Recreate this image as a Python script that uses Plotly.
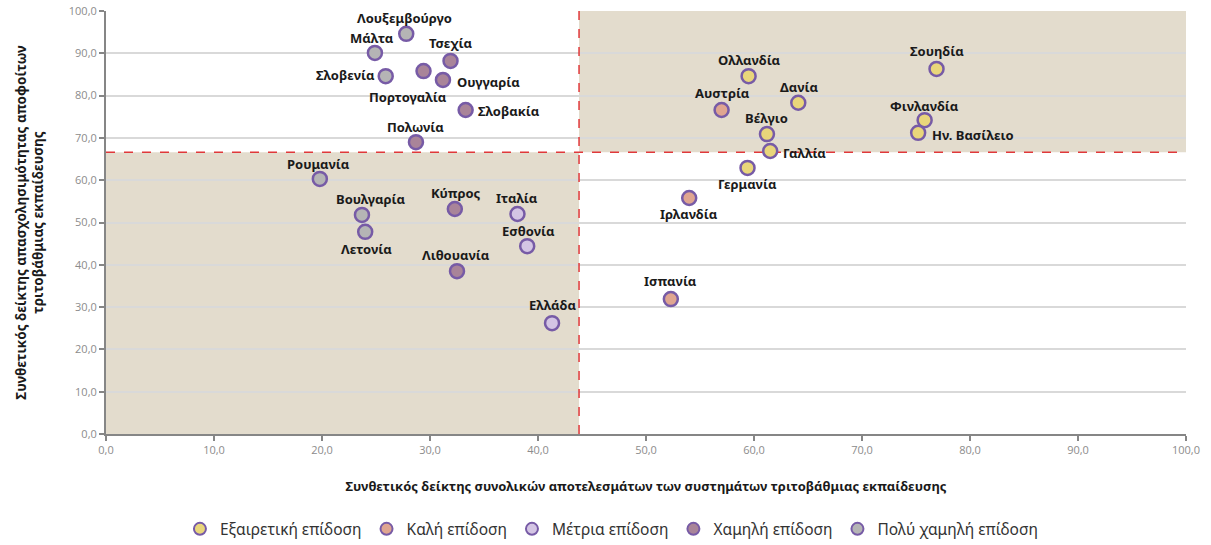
import plotly.graph_objects as go

# countries grouped by performance category
categories = ['Εξαιρετική επίδοση', 'Καλή επίδοση', 'Μέτρια επίδοση',
              'Χαμηλή επίδοση', 'Πολύ χαμηλή επίδοση']

excellent_names = ['Σουηδία', 'Φινλανδία', 'Ην. Βασίλειο', 'Ολλανδία', 'Δανία',
                   'Βέλγιο', 'Γαλλία', 'Γερμανία']
excellent_x = [76.9, 75.8, 75.2, 59.5, 64.1, 61.2, 61.5, 59.4]
excellent_y = [86.3, 74.2, 71.2, 84.6, 78.3, 70.9, 66.9, 62.9]

good_names = ['Αυστρία', 'Ιρλανδία', 'Ισπανία']
good_x = [57.0, 54.0, 52.3]
good_y = [76.6, 55.8, 31.9]

medium_names = ['Ιταλία', 'Εσθονία', 'Ελλάδα']
medium_x = [38.1, 39.0, 41.3]
medium_y = [52.0, 44.4, 26.2]

low_names = ['Τσεχία', 'Πορτογαλία', 'Ουγγαρία', 'Σλοβακία', 'Πολωνία',
             'Κύπρος', 'Λιθουανία']
low_x = [31.9, 29.4, 31.2, 33.3, 28.7, 32.3, 32.5]
low_y = [88.2, 85.8, 83.7, 76.6, 69.0, 53.2, 38.5]

verylow_names = ['Λουξεμβούργο', 'Μάλτα', 'Σλοβενία', 'Ρουμανία', 'Βουλγαρία', 'Λετονία']
verylow_x = [27.8, 24.9, 25.9, 19.8, 23.7, 24.0]
verylow_y = [94.6, 90.1, 84.6, 60.3, 51.8, 47.8]

# EU averages (threshold lines)
x_avg = 43.8
y_avg = 66.6

# label placement: (anchor, dx px, dy px, screen coords, dy>0 = down)
label_pos = {
    'Σουηδία': ('center', 0, -18), 'Φινλανδία': ('center', 0, -14),
    'Ην. Βασίλειο': ('left', 12, 2), 'Ολλανδία': ('center', 1, -16),
    'Δανία': ('center', 1, -16), 'Βέλγιο': ('center', 0, -16),
    'Γαλλία': ('left', 11, 2), 'Γερμανία': ('center', 0, 16),
    'Αυστρία': ('center', 1, -17), 'Ιρλανδία': ('center', 0, 16),
    'Ισπανία': ('center', 0, -18),
    'Ιταλία': ('center', 0, -16), 'Εσθονία': ('center', 1, -15),
    'Ελλάδα': ('center', 0, -18),
    'Τσεχία': ('center', 0, -18), 'Πορτογαλία': ('center', -16, 26),
    'Ουγγαρία': ('left', 12, 2), 'Σλοβακία': ('left', 10, 1),
    'Πολωνία': ('center', 0, -15), 'Κύπρος': ('center', 1, -16),
    'Λιθουανία': ('center', -1, -16),
    'Λουξεμβούργο': ('center', -2, -16), 'Μάλτα': ('center', -3, -15),
    'Σλοβενία': ('right', -9, -1), 'Ρουμανία': ('center', -1, -15),
    'Βουλγαρία': ('center', 9, -16), 'Λετονία': ('center', 1, 17),
}

colors = ['#E9D67B', '#DFA590', '#D4C5E4', '#A98499', '#B5B5B5']
groups = [
    (excellent_names, excellent_x, excellent_y),
    (good_names, good_x, good_y),
    (medium_names, medium_x, medium_y),
    (low_names, low_x, low_y),
    (verylow_names, verylow_x, verylow_y),
]

fig = go.Figure()
for cat, col, (names, xs, ys) in zip(categories, colors, groups):
    fig.add_trace(go.Scatter(
        x=xs, y=ys, text=names, name=cat,
        mode='markers',
        marker=dict(size=14, color=col, line=dict(color='#775BA6', width=2.5)),
        cliponaxis=False,
        hoverinfo='skip',
    ))
    for n, xv, yv in zip(names, xs, ys):
        anchor, dx, dy = label_pos[n]
        fig.add_annotation(x=xv, y=yv, text=n, showarrow=False,
                           xanchor=anchor, yanchor='middle',
                           xshift=dx, yshift=-dy,
                           font=dict(family='Noto Sans', size=13, color='#1a1a1a',
                                     weight='bold'))

shade = '#E3DCCD'
fig.add_shape(type='rect', x0=0, x1=x_avg, y0=0, y1=y_avg, fillcolor=shade,
              line_width=0, layer='below')
fig.add_shape(type='rect', x0=x_avg, x1=100, y0=y_avg, y1=100, fillcolor=shade,
              line_width=0, layer='below')
fig.add_shape(type='line', x0=x_avg, x1=x_avg, y0=0, y1=100,
              line=dict(color='#E0383A', width=1.5, dash='dash'), layer='between')
fig.add_shape(type='line', x0=0, x1=100, y0=y_avg, y1=y_avg,
              line=dict(color='#E0383A', width=1.5, dash='dash'), layer='between')

axis_common = dict(
    range=[0, 100], dtick=10, tickformat='.1f', automargin=False,
    showline=True, linecolor='#868686', linewidth=2,
    ticks='outside', tickcolor='#868686', ticklen=5, tickwidth=2,
    tickfont=dict(family='Open Sans', size=11, color='#8C8C8C'),
    zeroline=False,
)

fig.update_xaxes(**axis_common, showgrid=False,
                 title=dict(text='Συνθετικός δείκτης συνολικών αποτελεσμάτων των συστημάτων τριτοβάθμιας εκπαίδευσης',
                            font=dict(family='Noto Sans', size=13, color='#1a1a1a', weight='bold'),
                            standoff=26))
fig.update_yaxes(**axis_common, showgrid=True, gridcolor='#D9D9D9', gridwidth=2,
                 title=dict(text='Συνθετικός δείκτης απασχολησιμότητας αποφοίτων<br>τριτοβάθμιας εκπαίδευσης',
                            font=dict(family='Noto Sans', size=13.5, color='#1a1a1a', weight='bold'),
                            standoff=22))

fig.update_layout(
    width=1211, height=545,
    margin=dict(l=106, r=25, t=11, b=111, autoexpand=False),
    plot_bgcolor='white', paper_bgcolor='white',
    separators=',.',
    legend=dict(orientation='h', x=0.468, xanchor='center', y=-0.185, yanchor='top',
                font=dict(family='Noto Sans', size=15.5, color='#333333'),
                itemsizing='constant', traceorder='normal', itemwidth=30),
)

fig.write_html('out.html', config={'displayModeBar': False},
               post_script="document.body.style.margin='0';")
